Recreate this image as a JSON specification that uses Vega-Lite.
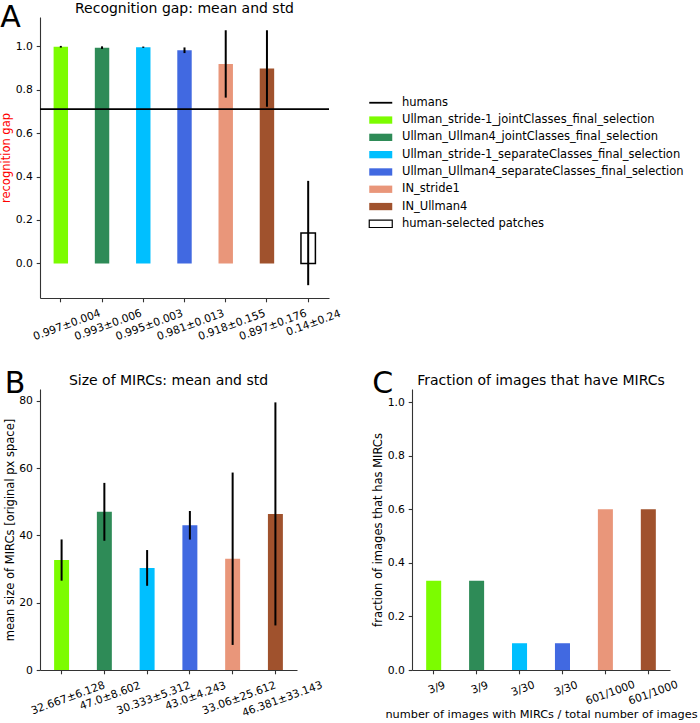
{
  "$schema": "https://vega.github.io/schema/vega-lite/v6.json",
  "padding": {"left": 0, "top": 2, "right": 0, "bottom": 0},
  "config": {
    "font": "DejaVu Sans",
    "view": {"stroke": null},
    "axis": {"grid": false, "domainColor": "#333", "tickColor": "#333", "labelColor": "#000", "titleColor": "#000", "labelFontSize": 10.8, "titleFontSize": 11.5, "titleFontWeight": "normal", "tickSize": 3.8, "labelPadding": 3.8, "domainWidth": 1.1, "tickWidth": 1.1, "titlePadding": 4},
    "title": {"fontSize": 14, "fontWeight": "normal", "color": "#000"},
    "concat": {"spacing": 0}
  },
  "resolve": {"scale": {"color": "independent"}},
  "spacing": 27,
  "vconcat": [
    {
      "title": {"text": "A", "anchor": "start", "fontSize": 30, "frame": "bounds", "baseline": "top", "offset": 0, "dy": 31},
      "resolve": {"scale": {"color": "independent"}},
      "vconcat": [
        {
          "title": {"text": "Recognition gap: mean and std", "frame": "group", "offset": 1},
          "width": 289,
          "height": 281,
          "data": {"values": [
            {"lab": "0.997±0.004", "name": "Ullman_stride-1_jointClasses_final_selection", "mean": 0.997, "std": 0.004},
            {"lab": "0.993±0.006", "name": "Ullman_Ullman4_jointClasses_final_selection", "mean": 0.993, "std": 0.006},
            {"lab": "0.995±0.003", "name": "Ullman_stride-1_separateClasses_final_selection", "mean": 0.995, "std": 0.003},
            {"lab": "0.981±0.013", "name": "Ullman_Ullman4_separateClasses_final_selection", "mean": 0.981, "std": 0.013},
            {"lab": "0.918±0.155", "name": "IN_stride1", "mean": 0.918, "std": 0.155},
            {"lab": "0.897±0.176", "name": "IN_Ullman4", "mean": 0.897, "std": 0.176},
            {"lab": "0.14±0.24", "name": "human-selected patches", "mean": 0.14, "std": 0.24}
          ]},
          "layer": [
            {
              "mark": {"type": "bar", "strokeWidth": 1.5},
              "encoding": {
                "x": {"field": "lab", "type": "nominal", "sort": null, "scale": {"paddingInner": 0.65, "paddingOuter": 0.33},
                  "axis": {"title": null, "labelAngle": -20, "labelAlign": "center", "labelBaseline": "top", "labelPadding": 6,
                    "encoding": {"labels": {"dy": {"value": {"expr": "length(datum.label)*1.1"}}}}}},
                "y": {"field": "mean", "type": "quantitative", "scale": {"domain": [-0.159, 1.134], "nice": false, "zero": false},
                  "axis": {"title": "recognition gap", "titleColor": "red", "values": [0, 0.2, 0.4, 0.6, 0.8, 1.0], "format": ".1f"}},
                "color": {"field": "name", "type": "nominal",
                  "scale": {"domain": ["humans", "Ullman_stride-1_jointClasses_final_selection", "Ullman_Ullman4_jointClasses_final_selection", "Ullman_stride-1_separateClasses_final_selection", "Ullman_Ullman4_separateClasses_final_selection", "IN_stride1", "IN_Ullman4", "human-selected patches"],
                    "range": ["black", "#7CFC00", "#2E8B57", "#00BFFF", "#4169E1", "#E9967A", "#A0522D", "white"]},
                  "legend": {"orient": "none", "legendX": 335, "legendY": 80, "title": null, "symbolSize": 100, "labelOffset": 15.5, "rowPadding": 4.3, "labelLimit": 400, "labelFontSize": 11.5, "labelColor": "#000",
                    "symbolType": "M-2.3,-0.73H2.3V0.73H-2.3Z",
                    "encoding": {"symbols": {
                      "shape": {"value": {"expr": "datum.value === 'humans' ? 'M-2.3,0H2.3' : 'M-2.3,-0.73H2.3V0.73H-2.3Z'"}},
                      "stroke": {"value": {"expr": "datum.value === 'humans' || datum.value === 'human-selected patches' ? 'black' : 'transparent'"}},
                      "strokeWidth": {"value": {"expr": "datum.value === 'humans' ? 1.8 : 1.2"}}
                    }}}},
                "stroke": {"condition": {"test": "datum.name === 'human-selected patches'", "value": "black"}, "value": "transparent"}
              }
            },
            {
              "mark": {"type": "errorbar", "color": "black", "thickness": 2},
              "encoding": {
                "x": {"field": "lab", "type": "nominal", "sort": null},
                "y": {"field": "mean", "type": "quantitative", "scale": {"domain": [-0.159, 1.134], "nice": false, "zero": false}, "title": "recognition gap"},
                "yError": {"field": "std"}
              }
            },
            {
              "data": {"values": [{"who": "humans", "gap": 0.71}]},
              "mark": {"type": "rule", "color": "black", "strokeWidth": 1.6},
              "encoding": {
                "y": {"field": "gap", "type": "quantitative", "title": "recognition gap"}
              }
            }
          ]
        }
      ]
    },
    {
      "spacing": 48,
      "resolve": {"scale": {"color": "independent"}},
      "hconcat": [
        {
          "title": {"text": "B", "anchor": "start", "fontSize": 30, "frame": "bounds", "baseline": "top", "offset": 0, "dy": 25},
          "vconcat": [
            {
              "title": {"text": "Size of MIRCs: mean and std", "frame": "group", "offset": 1},
              "width": 257,
              "height": 281,
              "data": {"values": [
                {"lab": "32.667±6.128", "name": "Ullman_stride-1_jointClasses_final_selection", "mean": 32.667, "std": 6.128},
                {"lab": "47.0±8.602", "name": "Ullman_Ullman4_jointClasses_final_selection", "mean": 47.0, "std": 8.602},
                {"lab": "30.333±5.312", "name": "Ullman_stride-1_separateClasses_final_selection", "mean": 30.333, "std": 5.312},
                {"lab": "43.0±4.243", "name": "Ullman_Ullman4_separateClasses_final_selection", "mean": 43.0, "std": 4.243},
                {"lab": "33.06±25.612", "name": "IN_stride1", "mean": 33.06, "std": 25.612},
                {"lab": "46.381±33.143", "name": "IN_Ullman4", "mean": 46.381, "std": 33.143}
              ]},
              "layer": [
                {
                  "mark": {"type": "bar"},
                  "encoding": {
                    "x": {"field": "lab", "type": "nominal", "sort": null, "scale": {"paddingInner": 0.65, "paddingOuter": 0.33},
                      "axis": {"title": null, "labelAngle": -20, "labelAlign": "center", "labelBaseline": "top", "labelPadding": 6,
                        "encoding": {"labels": {"dy": {"value": {"expr": "length(datum.label)*1.1"}}}}}},
                    "y": {"field": "mean", "type": "quantitative", "scale": {"domain": [0, 83.5], "nice": false},
                      "axis": {"title": "mean size of MIRCs [original px space]", "titlePadding": 3, "values": [0, 10, 20, 30, 40, 50, 60, 70, 80]}},
                    "color": {"field": "name", "type": "nominal", "legend": null,
                      "scale": {"domain": ["humans", "Ullman_stride-1_jointClasses_final_selection", "Ullman_Ullman4_jointClasses_final_selection", "Ullman_stride-1_separateClasses_final_selection", "Ullman_Ullman4_separateClasses_final_selection", "IN_stride1", "IN_Ullman4", "human-selected patches"],
                        "range": ["black", "#7CFC00", "#2E8B57", "#00BFFF", "#4169E1", "#E9967A", "#A0522D", "white"]}}
                  }
                },
                {
                  "mark": {"type": "errorbar", "color": "black", "thickness": 2},
                  "encoding": {
                    "x": {"field": "lab", "type": "nominal", "sort": null},
                    "y": {"field": "mean", "type": "quantitative", "scale": {"domain": [0, 83.5], "nice": false}, "title": "mean size of MIRCs [original px space]"},
                    "yError": {"field": "std"}
                  }
                }
              ]
            }
          ]
        },
        {
          "title": {"text": "C", "anchor": "start", "fontSize": 30, "frame": "bounds", "baseline": "top", "offset": 0, "dy": 25},
          "vconcat": [
            {
              "title": {"text": "Fraction of images that have MIRCs", "frame": "group", "offset": 1},
              "width": 258,
              "height": 281,
              "data": {"values": [
                {"key": "3/9|1", "name": "Ullman_stride-1_jointClasses_final_selection", "frac": 0.3333},
                {"key": "3/9|2", "name": "Ullman_Ullman4_jointClasses_final_selection", "frac": 0.3333},
                {"key": "3/30|3", "name": "Ullman_stride-1_separateClasses_final_selection", "frac": 0.1},
                {"key": "3/30|4", "name": "Ullman_Ullman4_separateClasses_final_selection", "frac": 0.1},
                {"key": "601/1000|5", "name": "IN_stride1", "frac": 0.601},
                {"key": "601/1000|6", "name": "IN_Ullman4", "frac": 0.601}
              ]},
              "mark": {"type": "bar"},
              "encoding": {
                "x": {"field": "key", "type": "nominal", "sort": null, "scale": {"paddingInner": 0.65, "paddingOuter": 0.33},
                  "axis": {"title": "number of images with MIRCs / total number of images", "titleFontSize": 11.3, "titlePadding": 2, "labelAngle": -20, "labelAlign": "center", "labelBaseline": "top", "labelPadding": 5,
                    "labelExpr": "split(datum.value, '|')[0]",
                    "encoding": {"labels": {"dy": {"value": {"expr": "length(split(datum.value, '|')[0])*1.1"}}}}}},
                "y": {"field": "frac", "type": "quantitative", "scale": {"domain": [0, 1.05], "nice": false},
                  "axis": {"title": "fraction of images that has MIRCs", "values": [0, 0.2, 0.4, 0.6, 0.8, 1.0], "format": ".1f"}},
                "color": {"field": "name", "type": "nominal", "legend": null,
                  "scale": {"domain": ["humans", "Ullman_stride-1_jointClasses_final_selection", "Ullman_Ullman4_jointClasses_final_selection", "Ullman_stride-1_separateClasses_final_selection", "Ullman_Ullman4_separateClasses_final_selection", "IN_stride1", "IN_Ullman4", "human-selected patches"],
                    "range": ["black", "#7CFC00", "#2E8B57", "#00BFFF", "#4169E1", "#E9967A", "#A0522D", "white"]}}
              }
            }
          ]
        }
      ]
    }
  ]
}
